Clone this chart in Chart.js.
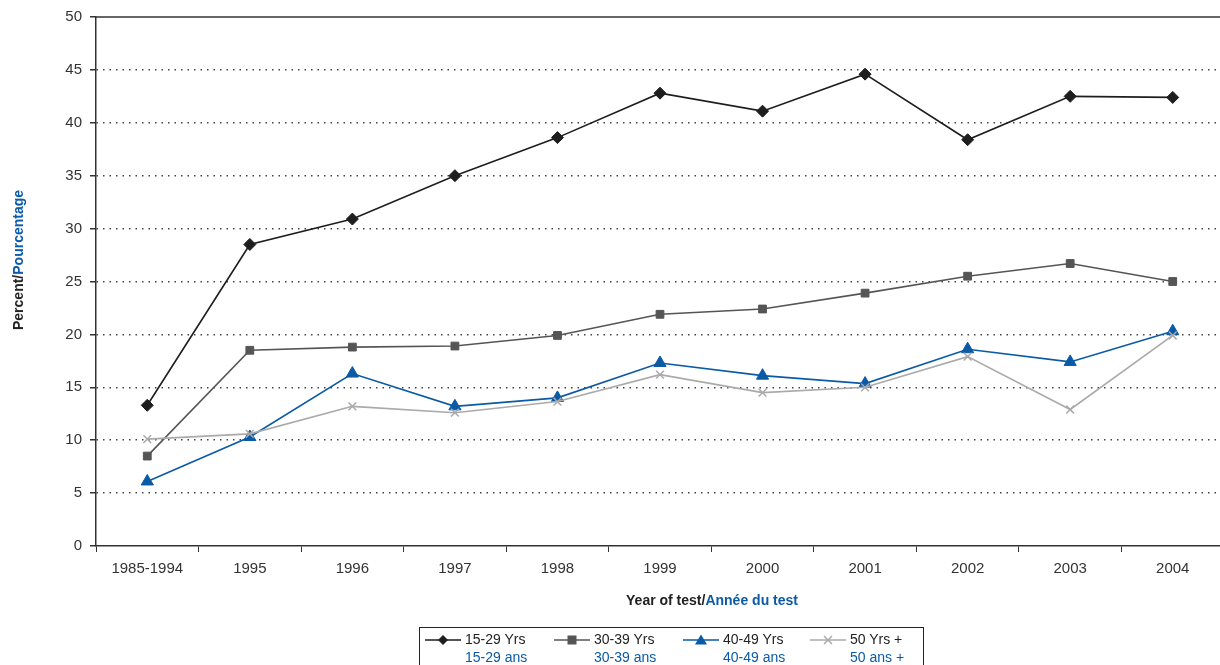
<!DOCTYPE html>
<html>
<head>
<meta charset="utf-8">
<script src="https://cdn.jsdelivr.net/npm/chart.js@4/dist/chart.umd.min.js"></script>
<style>
html,body{margin:0;padding:0;background:#fff;overflow:hidden;}
#wrap{position:relative;width:1232px;height:665px;}
#c{position:absolute;left:0;top:0;}
.t{font-family:"Liberation Sans",Arial,sans-serif;position:absolute;white-space:nowrap;}
.blue{color:#0a5aa6;}
#ytitle{left:18px;top:260px;transform:translate(-50%,-50%) rotate(-90deg);font-size:14px;font-weight:bold;color:#222;}
#xtitle{left:712px;top:600px;transform:translate(-50%,-50%);font-size:14px;font-weight:bold;color:#222;}
#legend{position:absolute;left:419px;top:627px;width:505px;height:45px;border:1px solid #222;box-sizing:border-box;}
.li{position:absolute;top:2px;font-size:14px;line-height:18px;color:#222;}
.li canvas{position:absolute;left:0;top:4px;}
.li .txt{position:absolute;left:40px;top:0;}
</style>
</head>
<body>
<div id="wrap">
<canvas id="c" width="1232" height="665"></canvas>
<div id="ytitle" class="t">Percent/<span class="blue">Pourcentage</span></div>
<div id="xtitle" class="t">Year of test/<span class="blue">Année du test</span></div>
<div id="legend"></div>
</div>
<script>
const categories = ['1985-1994','1995','1996','1997','1998','1999','2000','2001','2002','2003','2004'];
const seriesNamesEn = ['15-29 Yrs','30-39 Yrs','40-49 Yrs','50 Yrs +'];
const seriesNamesFr = ['15-29 ans','30-39 ans','40-49 ans','50 ans +'];
const age15_29 = [13.3, 28.5, 30.9, 35.0, 38.6, 42.8, 41.1, 44.6, 38.4, 42.5, 42.4];
const age30_39 = [8.5, 18.5, 18.8, 18.9, 19.9, 21.9, 22.4, 23.9, 25.5, 26.7, 25.0];
const age40_49 = [6.1, 10.3, 16.3, 13.2, 14.0, 17.3, 16.1, 15.35, 18.6, 17.4, 20.3];
const age50plus = [10.1, 10.6, 13.2, 12.6, 13.65, 16.2, 14.5, 15.0, 17.9, 12.9, 19.9];
const yTicks = [0,5,10,15,20,25,30,35,40,45,50];

const styles = [
  {color:'#1e1e1e', point:'rectRot', r:6},
  {color:'#555555', point:'rect', r:5.5},
  {color:'#0a5aa6', point:'triangle', r:7},
  {color:'#aaaaaa', point:'crossRot', r:5.5}
];
const allData = [age15_29, age30_39, age40_49, age50plus];

const datasets = allData.map((d,i)=>({
  label: seriesNamesEn[i],
  data: d,
  borderColor: styles[i].color,
  backgroundColor: styles[i].color,
  pointBackgroundColor: styles[i].color,
  pointBorderColor: styles[i].color,
  pointStyle: styles[i].point,
  pointRadius: styles[i].r,
  pointBorderWidth: i===3 ? 1.5 : 1,
  borderWidth: 1.6,
  tension: 0,
  order: 4-i
}));

const font = {family:'"Liberation Sans", Arial, sans-serif', size:15};

const topBorder = {
  id:'topBorder',
  beforeDatasetsDraw(chart){
    const {ctx, chartArea:a} = chart;
    ctx.save();
    ctx.strokeStyle = '#333';
    ctx.lineWidth = 1.5;
    ctx.beginPath();
    ctx.moveTo(a.left, a.top);
    ctx.lineTo(a.right, a.top);
    ctx.stroke();
    ctx.restore();
  }
};

new Chart(document.getElementById('c'), {
  type:'line',
  data:{labels:categories, datasets},
  options:{
    responsive:false,
    animation:false,
    layout:{padding:{left:0,top:15,right:1,bottom:89}},
    plugins:{legend:{display:false}, tooltip:{enabled:false}},
    scales:{
      x:{
        offset:true,
        grid:{offset:true, drawOnChartArea:false, drawTicks:true, tickLength:6, color:'#333', lineWidth:1},
        border:{color:'#333', width:1.5},
        ticks:{font, color:'#333', padding:8, maxRotation:0, autoSkip:false},
        afterFit: s => { s.height = 30; }
      },
      y:{
        min:0, max:50,
        afterBuildTicks: s => { s.ticks = yTicks.map(v=>({value:v})); },
        grid:{
          drawTicks:true, tickLength:6,
          color: ctx => ctx.tick && (ctx.tick.value === 0 || ctx.tick.value === 50) ? 'rgba(0,0,0,0)' : '#444',
          tickColor:'#333',
          lineWidth:1.5,
        },
        border:{color:'#333', width:1.5, dash:[1.5,5]},
        ticks:{font, color:'#333', padding:8},
        afterFit: s => { s.width = 96; }
      }
    }
  },
  plugins:[topBorder]
});

// HTML legend with sample markers drawn in small canvases
const legend = document.getElementById('legend');
const xs = [5, 134, 263, 390];
seriesNamesEn.forEach((n,i)=>{
  const d = document.createElement('div');
  d.className='li';
  d.style.left = xs[i]+'px';
  const cv = document.createElement('canvas');
  cv.width=36; cv.height=12;
  const g = cv.getContext('2d');
  g.strokeStyle = styles[i].color; g.fillStyle = styles[i].color; g.lineWidth=1.5;
  g.beginPath(); g.moveTo(0,6); g.lineTo(36,6); g.stroke();
  const cx=18, cy=6;
  if(i===0){ g.beginPath(); g.moveTo(cx,cy-5); g.lineTo(cx+5,cy); g.lineTo(cx,cy+5); g.lineTo(cx-5,cy); g.closePath(); g.fill(); }
  if(i===1){ g.fillRect(cx-4.5,cy-4.5,9,9); }
  if(i===2){ g.beginPath(); g.moveTo(cx,cy-5.5); g.lineTo(cx+6,cy+4.5); g.lineTo(cx-6,cy+4.5); g.closePath(); g.fill(); }
  if(i===3){ g.beginPath(); g.moveTo(cx-4,cy-4); g.lineTo(cx+4,cy+4); g.moveTo(cx+4,cy-4); g.lineTo(cx-4,cy+4); g.stroke(); }
  d.appendChild(cv);
  const t = document.createElement('div');
  t.className='txt t';
  t.innerHTML = n + '<br><span class="blue">' + seriesNamesFr[i] + '</span>';
  d.appendChild(t);
  legend.appendChild(d);
});
</script>
</body>
</html>
